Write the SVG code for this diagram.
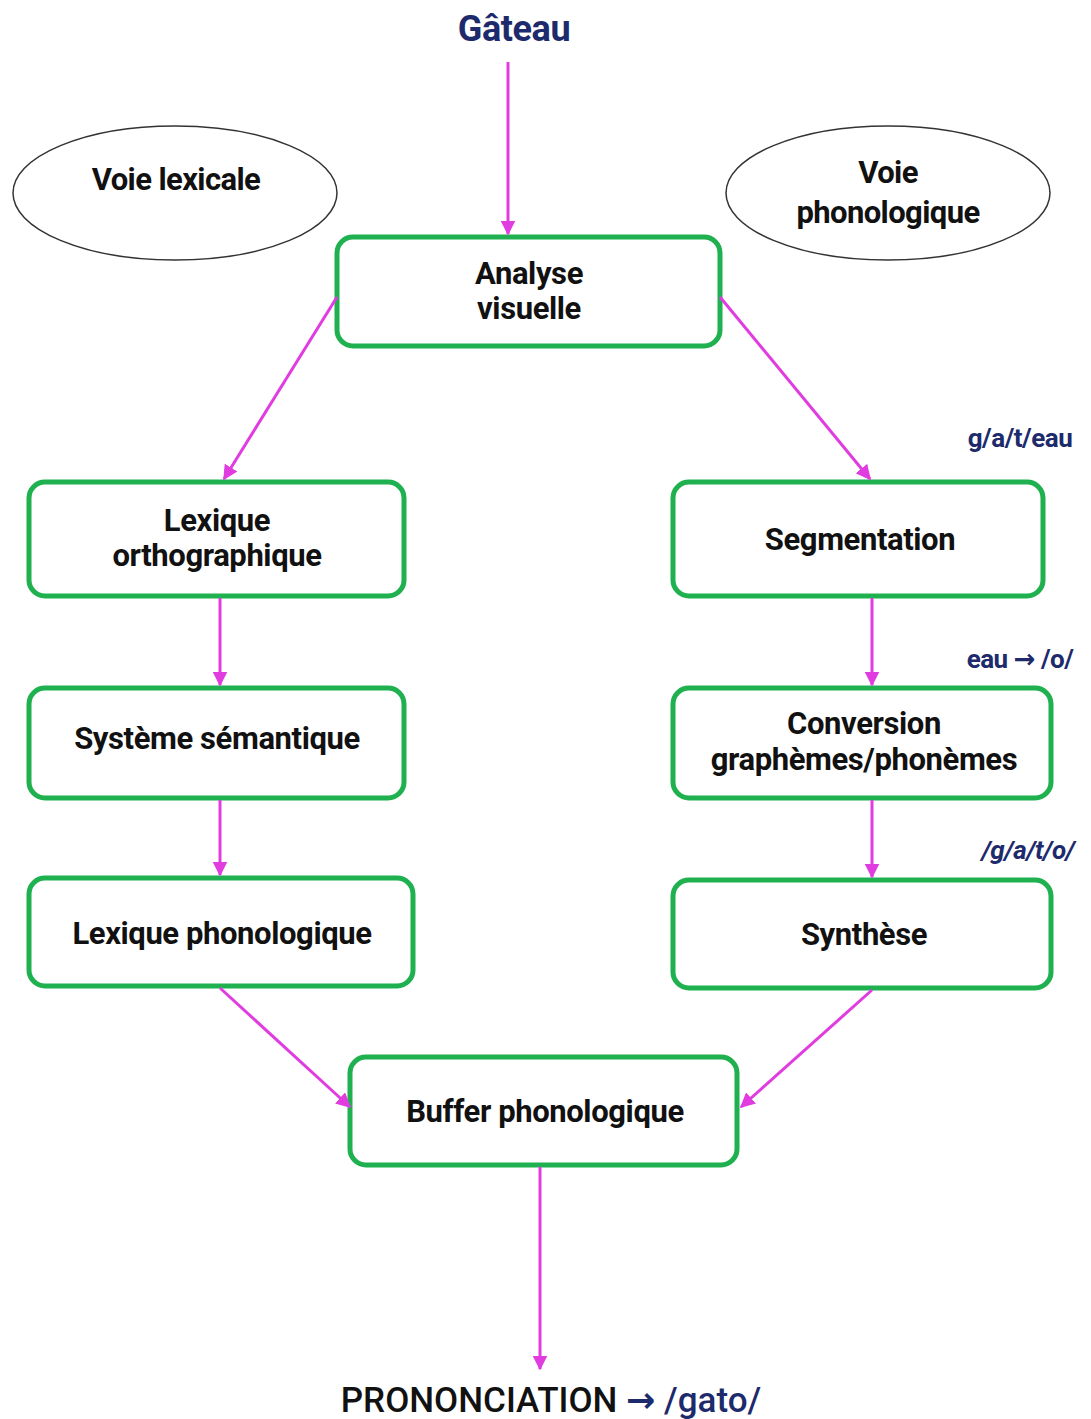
<svg xmlns="http://www.w3.org/2000/svg" width="1091" height="1419" viewBox="0 0 1091 1419">
<defs>
<marker id="ah" viewBox="0 0 10 10" refX="9" refY="5" markerWidth="5" markerHeight="5" orient="auto" markerUnits="strokeWidth">
<path d="M0,0 L10,5 L0,10 z" fill="#e03ce0"/>
</marker>
</defs>
<style>
.box{fill:#fff;stroke:#1fb04f;stroke-width:5}
.ell{fill:none;stroke:#333;stroke-width:1.5}
.t{font-family:Roboto,"Liberation Sans",sans-serif;font-weight:bold;font-size:31px;fill:#111;text-anchor:middle;letter-spacing:-0.4px}
.e{font-family:Roboto,"Liberation Sans",sans-serif;font-weight:bold;font-size:31px;fill:#111;text-anchor:middle;letter-spacing:-0.6px}
.lbl{font-family:Roboto,"Liberation Sans",sans-serif;font-weight:bold;font-size:26px;fill:#1d2a6b;text-anchor:middle;letter-spacing:-0.5px}
.ar{font-family:"DejaVu Sans",sans-serif;font-weight:bold}
.c{stroke:#e03ce0;stroke-width:3;fill:none;marker-end:url(#ah)}
</style>
<rect width="1091" height="1419" fill="#fff"/>
<text x="514" y="41" class="t" style="fill:#1d2a6b;font-size:36px">Gâteau</text>
<g id="voie-lexicale">
<ellipse class="ell" cx="175" cy="193" rx="162" ry="67"/>
<text x="176" y="190" class="e">Voie lexicale</text>
</g>
<g id="voie-phonologique">
<ellipse class="ell" cx="888" cy="193" rx="162" ry="67"/>
<text x="888" y="183" class="e">Voie</text>
<text x="888" y="223" class="e">phonologique</text>
</g>
<g id="analyse">
<rect class="box" x="337" y="237" width="383" height="109" rx="16"/>
<text x="529" y="284" class="t">Analyse</text>
<text x="529" y="319" class="t">visuelle</text>
</g>
<g id="lexique-ortho">
<rect class="box" x="29" y="482" width="375" height="114" rx="16"/>
<text x="217" y="531" class="t">Lexique</text>
<text x="217" y="566" class="t">orthographique</text>
</g>
<g id="segmentation">
<rect class="box" x="673" y="482" width="370" height="114" rx="16"/>
<text x="860" y="550" class="t">Segmentation</text>
</g>
<g id="semantique">
<rect class="box" x="29" y="688" width="375" height="110" rx="16"/>
<text x="217" y="749" class="t">Système sémantique</text>
</g>
<g id="conversion">
<rect class="box" x="673" y="688" width="378" height="110" rx="16"/>
<text x="864" y="734" class="t">Conversion</text>
<text x="864" y="770" class="t">graphèmes/phonèmes</text>
</g>
<g id="lexique-phono">
<rect class="box" x="29" y="878" width="384" height="108" rx="16"/>
<text x="222" y="944" class="t">Lexique phonologique</text>
</g>
<g id="synthese">
<rect class="box" x="673" y="880" width="378" height="108" rx="16"/>
<text x="864" y="945" class="t">Synthèse</text>
</g>
<g id="buffer">
<rect class="box" x="350" y="1057" width="387" height="108" rx="16"/>
<text x="545" y="1122" class="t">Buffer phonologique</text>
</g>
<g id="labels">
<text x="1020" y="447" class="lbl">g/a/t/eau</text>
<text x="1020" y="668" class="lbl">eau <tspan class="ar">→</tspan> /o/</text>
<text x="1028" y="859" class="lbl" style="font-style:italic">/g/a/t/o/</text>
</g>
<g id="connectors">
<line class="c" x1="508" y1="62" x2="508" y2="234"/>
<line class="c" x1="337" y1="297" x2="224" y2="479"/>
<line class="c" x1="720" y1="297" x2="870" y2="479"/>
<line class="c" x1="220" y1="598" x2="220" y2="685"/>
<line class="c" x1="220" y1="800" x2="220" y2="875"/>
<line class="c" x1="872" y1="598" x2="872" y2="685"/>
<line class="c" x1="872" y1="800" x2="872" y2="877"/>
<line class="c" x1="220" y1="988" x2="350" y2="1107"/>
<line class="c" x1="872" y1="990" x2="741" y2="1107"/>
<line class="c" x1="540" y1="1167" x2="540" y2="1369"/>
</g>
<text x="551" y="1412" class="t" style="font-size:35px;font-weight:500;letter-spacing:0">PRONONCIATION <tspan class="ar" style="fill:#1d2a6b">→</tspan><tspan style="fill:#1d2a6b"> /gato/</tspan></text>
</svg>
